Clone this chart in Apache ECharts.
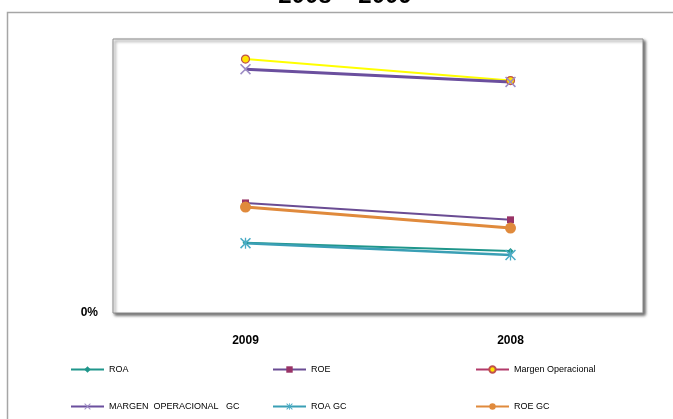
<!DOCTYPE html>
<html>
<head>
<meta charset="utf-8">
<script src="https://cdn.jsdelivr.net/npm/echarts@6/dist/echarts.min.js"></script>
<style>
  html, body { margin: 0; padding: 0; background: #fff; }
  #chart { width: 673px; height: 419px; }
</style>
</head>
<body>
<div id="chart"></div>
<script>
// data (fractions, axis shows 0%)
const years = ['2009', '2008']
const roa = [0.154, 0.136]
const roe = [0.241, 0.204]
const margenOp = [0.556, 0.509]
const margenOpGC = [0.534, 0.506]
const roaGC = [0.153, 0.127]
const roeGC = [0.232, 0.186]
const seriesNames = ['ROA', 'ROE', 'Margen Operacional', 'MARGEN  OPERACIONAL   GC', 'ROA GC', 'ROE GC']

const xMark = 'path://M0,1L1,0L5,4L9,0L10,1L6,5L10,9L9,10L5,6L1,10L0,9L4,5Z'
const starMark = 'path://M0,1L1,0L5,4L9,0L10,1L6,5L10,9L9,10L5,6L1,10L0,9L4,5Z M4.4,0H5.6V10H4.4Z'

const chart = echarts.init(document.getElementById('chart'))

// one legend per item so they sit in the 3-column layout
const legendPos = [
  [65, 360], [267, 360], [470, 360],
  [65, 397], [267, 397], [470, 397]
]
const legends = seriesNames.map((name, i) => ({
  left: legendPos[i][0],
  top: legendPos[i][1],
  orient: 'horizontal',
  itemWidth: 33,
  itemHeight: 8,
  itemGap: 4,
  textStyle: { fontFamily: 'Liberation Sans', fontSize: 9, color: '#000' },
  data: [i === 2 ? { name, lineStyle: { color: '#b23a6a' } } : name]
}))

function line(name, data, color, width, symbol, size, itemStyle) {
  return {
    name,
    type: 'line',
    data,
    symbol,
    symbolSize: size,
    showSymbol: true,
    lineStyle: { color, width },
    itemStyle: Object.assign({ color }, itemStyle || {}),
    emphasis: { disabled: true },
    animation: false
  }
}

const option = {
  backgroundColor: '#fff',
  animation: false,
  graphic: [
    {
      type: 'rect',
      shape: { x: 7.5, y: 12.5, width: 720, height: 460 },
      style: { fill: 'none', stroke: '#a6a6a6', lineWidth: 1.5 },
      silent: true
    },
    {
      type: 'text',
      x: 345,
      y: -4,
      style: {
        text: '2008 – 2009',
        fontFamily: 'Liberation Sans',
        fontWeight: 'bold',
        fontSize: 24,
        fill: '#000',
        align: 'center',
        verticalAlign: 'middle'
      },
      silent: true
    }
  ],
  legend: legends,
  grid: {
    left: 113,
    right: 30,
    top: 39,
    bottom: 106,
    show: true,
    backgroundColor: '#fff',
    borderColor: '#8c8c8c',
    borderWidth: 1,
    shadowColor: 'rgba(0,0,0,0.6)',
    shadowBlur: 3,
    shadowOffsetX: 2,
    shadowOffsetY: 2
  },
  xAxis: {
    type: 'category',
    data: years,
    boundaryGap: true,
    axisLine: { show: false },
    axisTick: { show: false },
    axisLabel: {
      margin: 22,
      fontFamily: 'Liberation Sans',
      fontWeight: 'bold',
      fontSize: 12,
      color: '#000'
    }
  },
  yAxis: {
    type: 'value',
    min: 0,
    max: 0.6,
    interval: 0.6,
    axisLine: { show: false },
    axisTick: { show: false },
    splitLine: { show: false },
    axisLabel: {
      showMaxLabel: false,
      margin: 15,
      padding: [4, 0, 0, 0],
      fontFamily: 'Liberation Sans',
      fontWeight: 'bold',
      fontSize: 12,
      color: '#000',
      formatter: v => Math.round(v * 100) + '%'
    }
  },
  series: [
    line(seriesNames[0], roa, '#1f968b', 2, 'diamond', 6),
    line(seriesNames[1], roe, '#6a4c93', 2, 'rect', 7, { color: '#993366' }),
    line(seriesNames[2], margenOp, '#ffff00', 2, 'circle', 8,
      { color: '#ffe400', borderColor: '#c0504d', borderWidth: 1.2 }),
    line(seriesNames[3], margenOpGC, '#6b4f9e', 3, xMark, 11, { color: '#9d8cc4' }),
    line(seriesNames[4], roaGC, '#3a9fb5', 2.5, starMark, 11, { color: '#4bacc6' }),
    line(seriesNames[5], roeGC, '#e08a3c', 3, 'circle', 11)
  ]
}

chart.setOption(option)
</script>
</body>
</html>
